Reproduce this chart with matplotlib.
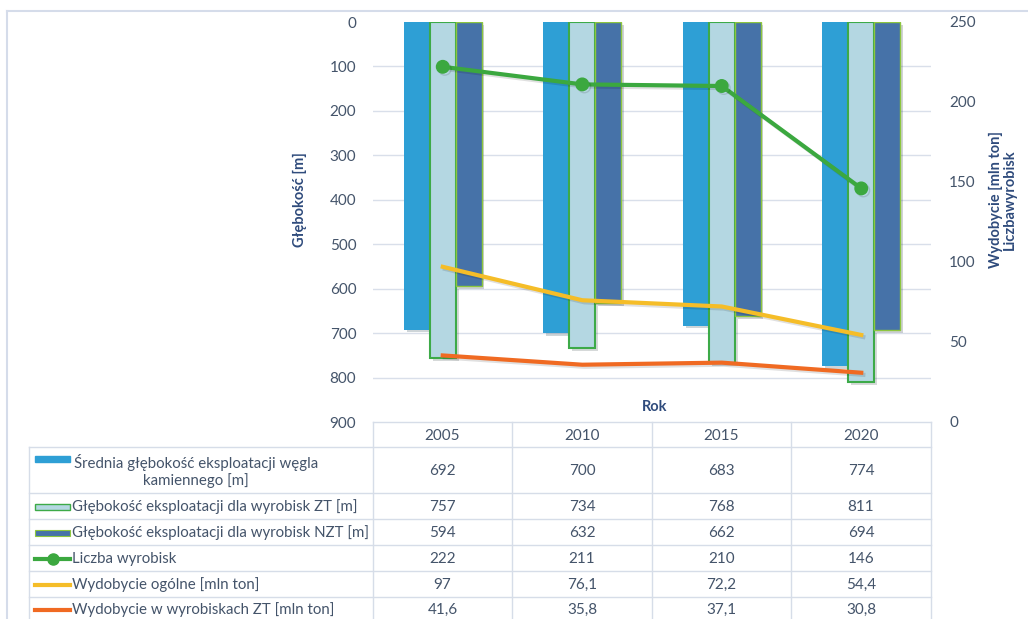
import matplotlib
matplotlib.use("Agg")
import matplotlib.pyplot as plt
import matplotlib.patheffects as pe
from matplotlib.patches import Rectangle
import numpy as np

plt.rcParams['font.family'] = ['Lato', 'DejaVu Sans']

years = ["2005", "2010", "2015", "2020"]
srednia = [692, 700, 683, 774]
gl_zt = [757, 734, 768, 811]
gl_nzt = [594, 632, 662, 694]
liczba = [222, 211, 210, 146]
wyd_ogolne = [97, 76.1, 72.2, 54.4]
wyd_zt = [41.6, 35.8, 37.1, 30.8]

row_labels = ["Średnia głębokość eksploatacji węgla\nkamiennego [m]",
              "Głębokość eksploatacji dla wyrobisk ZT [m]",
              "Głębokość eksploatacji dla wyrobisk NZT [m]",
              "Liczba wyrobisk",
              "Wydobycie ogólne [mln ton]",
              "Wydobycie w wyrobiskach ZT [mln ton]"]

left_ticks = [0, 100, 200, 300, 400, 500, 600, 700, 800, 900]
right_ticks = [0, 50, 100, 150, 200, 250]

c_sr = "#2E9FD5"
c_zt = "#B4D7E2"
c_zt_edge = "#3DAA48"
c_nzt = "#4672A8"
c_nzt_edge = "#8DC63F"
c_green = "#3BA83F"
c_yellow = "#F5BD28"
c_orange = "#F06A22"
txt = "#44546A"
lab = "#2F4B7C"
grid_c = "#D9DFEA"

W, H = 1028, 619
fig = plt.figure(figsize=(W/100, H/100), dpi=100)

def fx(px): return px / W
def fy(py): return 1 - py / H

bg = fig.add_axes([0, 0, 1, 1])
bg.set_xlim(0, W); bg.set_ylim(H, 0); bg.axis('off')
bg.plot([7, W], [11, 11], color="#D5DCEA", lw=1.5)
bg.plot([7, 7], [11, H], color="#D5DCEA", lw=1.5)

x0, x1, y0, y1 = 373, 931, 22, 422
ax = fig.add_axes([fx(x0), fy(y1), fx(x1 - x0), (y1 - y0) / H])
ax.set_zorder(2); ax.patch.set_visible(False)
ax2 = ax.twinx()
ax2.set_zorder(3)

x = np.arange(len(years))
w = 0.186
shadow = [pe.SimplePatchShadow(offset=(2, -2), alpha=0.2), pe.Normal()]
b1 = ax.bar(x - w, srednia, w, color=c_sr, zorder=3)
b2 = ax.bar(x, gl_zt, w, color=c_zt, edgecolor=c_zt_edge, linewidth=1.5, zorder=3)
b3 = ax.bar(x + w, gl_nzt, w, color=c_nzt, edgecolor=c_nzt_edge, linewidth=1.0, zorder=3)
for bars in (b1, b2, b3):
    for p in bars:
        p.set_path_effects(shadow)

ax.set_xlim(-0.5, len(years) - 0.5)
ax.set_ylim(900, 0)
ax.set_yticks(left_ticks)
ax.set_xticks([])
for s in ax.spines.values():
    s.set_visible(False)
for v in left_ticks[1:-1]:
    ax.axhline(v, color=grid_c, lw=1, zorder=1)
ax.tick_params(axis='y', length=0, pad=12, labelsize=11, labelcolor=txt)

lshadow = [pe.SimpleLineShadow(offset=(1.5, -1.5), alpha=0.12), pe.Normal()]
ax2.plot(x, liczba, color=c_green, lw=3, marker='o', ms=9, path_effects=lshadow)
ax2.plot(x, wyd_ogolne, color=c_yellow, lw=3, path_effects=lshadow)
ax2.plot(x, wyd_zt, color=c_orange, lw=3, path_effects=lshadow)
ax2.set_ylim(0, 250)
ax2.set_yticks(right_ticks)
for s in ax2.spines.values():
    s.set_visible(False)
ax2.tick_params(axis='y', length=0, pad=13, labelsize=11, labelcolor=txt)

fig.text(fx(300), fy(200), "Głębokość [m]", rotation=90, ha='center', va='center',
         color=lab, fontsize=10.5, fontweight='bold')
fig.text(fx(1003), fy(200), "Wydobycie [mln ton]\nLiczbawyrobisk", rotation=90,
         ha='center', va='center', color=lab, fontsize=10.5, fontweight='bold',
         multialignment='center', linespacing=1.0)
fig.text(fx(655), fy(407), "Rok", ha='center', va='center', color=lab,
         fontsize=10.5, fontweight='bold')

cols = [373, 512, 652, 791, 931]
rows = [422, 447, 493, 519, 545, 571, 597, 625]
lw_t = 1.0
tc = "#D6DDE8"
bg.plot([cols[0], cols[-1]], [rows[0], rows[0]], color=tc, lw=lw_t)
for r in rows[1:-1]:
    bg.plot([29, cols[-1]], [r, r], color=tc, lw=lw_t)
for c in cols:
    bg.plot([c, c], [rows[0], H], color=tc, lw=lw_t)
bg.plot([29, 29], [rows[1], H], color=tc, lw=lw_t)

for j, yr in enumerate(years):
    cx = (cols[j] + cols[j + 1]) / 2
    bg.text(cx, (rows[0] + rows[1]) / 2 + 1, yr, ha='center', va='center', color=txt, fontsize=11)

def fmt(v):
    if float(v).is_integer():
        return str(int(v))
    return f"{v}".replace('.', ',')

series = [srednia, gl_zt, gl_nzt, liczba, wyd_ogolne, wyd_zt]
for i, (lbl, vals) in enumerate(zip(row_labels, series)):
    top, bot = rows[i + 1], rows[i + 2]
    cy = (top + bot) / 2 + 1
    if i == 5:
        cy = top + 13
    for j, v in enumerate(vals):
        cx = (cols[j] + cols[j + 1]) / 2
        bg.text(cx, cy, fmt(v), ha='center', va='center', color=txt, fontsize=11)
    if i == 0:
        bg.text(196, cy, lbl, ha='center', va='center', color=txt, fontsize=10.8,
                multialignment='center', linespacing=1.25)
        ky = top + 12
    else:
        bg.text(72, cy, lbl, ha='left', va='center', color=txt, fontsize=10.8)
        ky = cy
    if i == 0:
        bg.add_patch(Rectangle((35, ky - 3), 35, 6, color=c_sr))
    elif i == 1:
        bg.add_patch(Rectangle((35, ky - 3), 35, 6, facecolor=c_zt, edgecolor=c_zt_edge, lw=1))
    elif i == 2:
        bg.add_patch(Rectangle((35, ky - 3), 35, 6, facecolor=c_nzt, edgecolor=c_nzt_edge, lw=0.8))
    elif i == 3:
        bg.plot([35, 70], [ky, ky], color=c_green, lw=3)
        bg.plot([52.5], [ky], 'o', color=c_green, ms=8)
    elif i == 4:
        bg.plot([35, 70], [ky, ky], color=c_yellow, lw=3)
    else:
        bg.plot([35, 70], [ky, ky], color=c_orange, lw=3)

fig.savefig("out.png", dpi=100)
